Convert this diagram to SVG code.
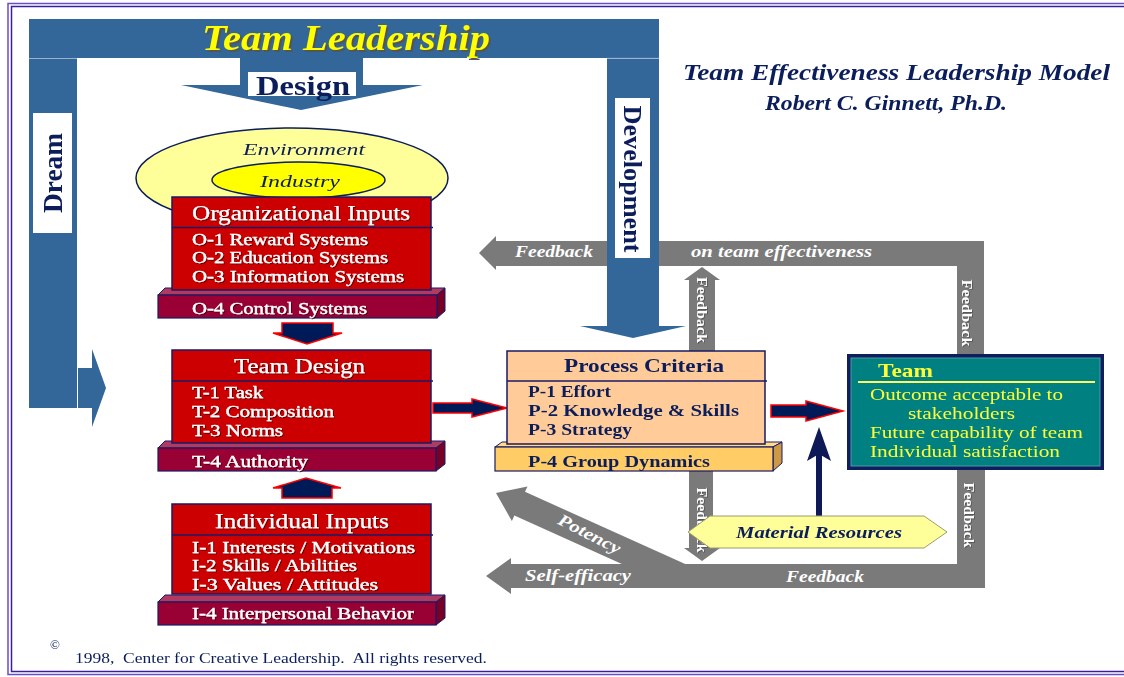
<svg xmlns="http://www.w3.org/2000/svg" width="1124" height="677" viewBox="0 0 1124 677">
  <defs>
    <style>
      text { font-family: "Liberation Serif", "Times New Roman", serif; }
      .navy { fill: #0b1d5a; }
      .bi { font-weight: bold; font-style: italic; }
      .b { font-weight: bold; }
      .red-box { fill: #cc0000; stroke: #1a1a66; stroke-width: 1.5; }
      .bar-front { fill: #990033; stroke: #1a1a66; stroke-width: 1.2; }
      .bar-top { fill: #b03a60; stroke: #1a1a66; stroke-width: 1; }
      .bar-side { fill: #770026; stroke: #1a1a66; stroke-width: 1; }
      .rule { stroke: #1a1a66; stroke-width: 1.5; }
      .box-title { font-size: 20px; fill: #ffffff; stroke: #ffffff; stroke-width: 0.25; }
      .box-item { font-size: 16.5px; fill: #ffffff; stroke: #ffffff; stroke-width: 0.35; }
      .blue { fill: #336699; }
      .flow { fill: #001a57; stroke: #ff0000; stroke-width: 1.5; stroke-linejoin: miter; }
      .fb { fill: #7a7a7a; }
      .fb-text { font-weight: bold; font-style: italic; fill: #ffffff; font-size: 17px; }
      .fb-vert { font-weight: bold; fill: #ffffff; font-size: 15px; }
      .pc-item { font-size: 17px; font-weight: bold; fill: #0b1d5a; }
      .team-item { font-size: 17px; fill: #ffff33; }
    </style>
    <filter id="emboss" x="-5%" y="-20%" width="110%" height="140%">
      <feDropShadow dx="1" dy="1" stdDeviation="0.4" flood-color="#3a0000" flood-opacity="0.75"/>
    </filter>
    <filter id="soft" x="-5%" y="-20%" width="110%" height="140%">
      <feDropShadow dx="0.8" dy="0.8" stdDeviation="0.3" flood-color="#333333" flood-opacity="0.6"/>
    </filter>
  </defs>

  <!-- page -->
  <rect x="0" y="0" width="1124" height="677" fill="#ffffff"/>
  <rect x="8" y="3.5" width="1130" height="671" fill="none" stroke="#6a4cc8" stroke-width="1.5"/>
  <rect x="11.5" y="6.5" width="1124" height="665" fill="none" stroke="#3a1e9a" stroke-width="1.5"/>

  <!-- feedback loops and flow arrows -->
  <g id="connectors">
    <!-- feedback on team effectiveness -->
    <polygon class="fb" points="479,253 496,236 496,241 984,241 984,354 957,354 957,266 496,266 496,270"/>
    <polygon class="fb" points="689,351 689,280 684,280 702,267 720,280 715,280 715,351"/>
    <!-- lower feedback, self-efficacy and potency -->
    <polygon class="fb" points="486,576 511,558 511,564 957,564 957,470 985,470 985,588 511,588 511,594"/>
    <polygon class="fb" points="496,493 527.5,486.4 525,491.8 720.7,580 657.3,580 514.4,515.6 511.9,521"/>
    <polygon class="fb" points="689,471 713,471 713,548 720,548 702,561 684,548 689,548"/>

    <text x="515" y="257" class="fb-text" textLength="78" lengthAdjust="spacingAndGlyphs">Feedback</text>
    <text x="691" y="257" class="fb-text" textLength="181" lengthAdjust="spacingAndGlyphs">on team effectiveness</text>
    <g filter="url(#soft)">
      <text transform="translate(697,310) rotate(90)" text-anchor="middle" class="fb-vert" textLength="66" lengthAdjust="spacingAndGlyphs">Feedback</text>
      <text transform="translate(962,313) rotate(90)" text-anchor="middle" class="fb-vert" textLength="67" lengthAdjust="spacingAndGlyphs">Feedback</text>
      <text transform="translate(697,520) rotate(90)" text-anchor="middle" class="fb-vert" textLength="65" lengthAdjust="spacingAndGlyphs">Feedback</text>
      <text transform="translate(964,515) rotate(90)" text-anchor="middle" class="fb-vert" textLength="65" lengthAdjust="spacingAndGlyphs">Feedback</text>
    </g>
    <text x="525" y="581" class="fb-text" textLength="106" lengthAdjust="spacingAndGlyphs">Self-efficacy</text>
    <text x="786" y="582" class="fb-text" textLength="78" lengthAdjust="spacingAndGlyphs">Feedback</text>
    <text transform="translate(587,539) rotate(27)" text-anchor="middle" class="fb-text" font-size="16" textLength="68" lengthAdjust="spacingAndGlyphs">Potency</text>

    <!-- input flow arrows -->
    <polygon class="flow" points="282,323 333,323 333,333 342,333 307,344 273,333 282,333"/>
    <polygon class="flow" points="282,498 332,498 332,488 341,488 306,478 273,488 282,488"/>
    <polygon class="flow" points="433,403 472,403 472,399 507,408 472,417 472,413 433,413"/>
    <polygon class="flow" points="771,405 806,405 806,401 843,411 806,421 806,417 771,417"/>

    <!-- material resources support -->
    <rect x="816" y="450" width="6" height="66" fill="#0d1a57"/>
    <polygon points="819,427 831,461 819,454 807,461" fill="#0d1a57"/>
  </g>

  <!-- leadership frame: top bar, Dream bar, Development arrow -->
  <g id="leadership-frame">
    <rect class="blue" x="29" y="19" width="630" height="39"/>
    <rect class="blue" x="29" y="58.5" width="48" height="349.5"/>
    <polygon class="blue" points="78,368 92,368 92,349 106,388 92,427 92,408 78,408"/>
    <polygon class="blue" points="607,58.5 659,58.5 659,326 686,326 633,338 580,326 607,326"/>
    <line x1="607" y1="58.3" x2="659" y2="58.3" stroke="#9fb6cf" stroke-width="0.8"/>
    <text x="204" y="52" class="bi" font-size="35" fill="#555555" textLength="288" lengthAdjust="spacingAndGlyphs">Team Leadership</text>
    <text x="202" y="50" class="bi" font-size="35" fill="#ffff00" textLength="288" lengthAdjust="spacingAndGlyphs">Team Leadership</text>
    <rect x="33" y="113" width="39" height="120" fill="#ffffff"/>
    <text transform="translate(62,173) rotate(-90)" text-anchor="middle" class="b navy" font-size="27" textLength="80" lengthAdjust="spacingAndGlyphs">Dream</text>
    <rect x="615" y="98" width="35" height="160" fill="#ffffff"/>
    <text transform="translate(624,179) rotate(90)" text-anchor="middle" class="b navy" font-size="26" textLength="147" lengthAdjust="spacingAndGlyphs">Development</text>
  </g>

  <!-- Design arrow -->
  <g id="design">
    <polygon class="blue" points="240,58 363,58 363,85 423,85 301,110 181,85 240,85"/>
    <rect x="248" y="72" width="108" height="24" fill="#ffffff"/>
    <text x="256" y="95" class="b navy" font-size="27" textLength="94" lengthAdjust="spacingAndGlyphs">Design</text>
  </g>

  <!-- model title -->
  <g id="title">
    <text x="683" y="80" class="bi navy" font-size="23" textLength="427" lengthAdjust="spacingAndGlyphs">Team Effectiveness Leadership Model</text>
    <text x="765" y="110" class="bi navy" font-size="20" textLength="242" lengthAdjust="spacingAndGlyphs">Robert C. Ginnett, Ph.D.</text>
  </g>

  <!-- environment / industry -->
  <g id="environment">
    <ellipse cx="292" cy="178" rx="156" ry="50" fill="#ffff99" stroke="#0b1d5a" stroke-width="1.5"/>
    <text x="243" y="155" class="navy" font-style="italic" font-size="17" textLength="122" lengthAdjust="spacingAndGlyphs">Environment</text>
  </g>
  <g id="industry">
    <ellipse cx="298.5" cy="180" rx="86.5" ry="18" fill="#ffff00" stroke="#0b1d5a" stroke-width="1.5"/>
    <text x="260" y="187" class="navy" font-style="italic" font-size="17" textLength="80" lengthAdjust="spacingAndGlyphs">Industry</text>
  </g>

  <!-- Organizational Inputs -->
  <g id="organizational-inputs">
    <polygon class="bar-top" points="158,295 165,288 445,288 437,295"/>
    <polygon class="bar-side" points="437,295 445,288 445,311 437,318"/>
    <rect class="bar-front" x="158" y="295" width="279" height="23"/>
    <rect class="red-box" x="172" y="197" width="259" height="93"/>
    <line class="rule" x1="172" y1="227.5" x2="433" y2="227.5"/>
    <g filter="url(#emboss)">
      <text x="192" y="220" class="box-title" textLength="218" lengthAdjust="spacingAndGlyphs">Organizational Inputs</text>
      <text x="192" y="245" class="box-item" textLength="176" lengthAdjust="spacingAndGlyphs">O-1 Reward Systems</text>
      <text x="192" y="263" class="box-item" textLength="196" lengthAdjust="spacingAndGlyphs">O-2 Education Systems</text>
      <text x="192" y="282" class="box-item" textLength="212" lengthAdjust="spacingAndGlyphs">O-3 Information Systems</text>
      <text x="192" y="314" class="box-item" textLength="175" lengthAdjust="spacingAndGlyphs">O-4 Control Systems</text>
    </g>
  </g>

  <!-- Team Design -->
  <g id="team-design">
    <polygon class="bar-top" points="158,448 165,441 445,441 436,448"/>
    <polygon class="bar-side" points="436,448 445,441 445,464 436,471"/>
    <rect class="bar-front" x="158" y="448" width="278" height="23"/>
    <rect class="red-box" x="172" y="350" width="259" height="93"/>
    <line class="rule" x1="172" y1="381" x2="433" y2="381"/>
    <g filter="url(#emboss)">
      <text x="234" y="373" class="box-title" textLength="131" lengthAdjust="spacingAndGlyphs">Team Design</text>
      <text x="192" y="398" class="box-item" textLength="71" lengthAdjust="spacingAndGlyphs">T-1 Task</text>
      <text x="192" y="417" class="box-item" textLength="142" lengthAdjust="spacingAndGlyphs">T-2 Composition</text>
      <text x="192" y="436" class="box-item" textLength="91" lengthAdjust="spacingAndGlyphs">T-3 Norms</text>
      <text x="192" y="467" class="box-item" textLength="116" lengthAdjust="spacingAndGlyphs">T-4 Authority</text>
    </g>
  </g>

  <!-- Individual Inputs -->
  <g id="individual-inputs">
    <polygon class="bar-top" points="158,602 165,595 445,595 436,602"/>
    <polygon class="bar-side" points="436,602 445,595 445,618 436,625"/>
    <rect class="bar-front" x="158" y="602" width="278" height="23"/>
    <rect class="red-box" x="172" y="504" width="259" height="90"/>
    <line class="rule" x1="172" y1="535" x2="433" y2="535"/>
    <g filter="url(#emboss)">
      <text x="215" y="528" class="box-title" textLength="174" lengthAdjust="spacingAndGlyphs">Individual Inputs</text>
      <text x="192" y="553" class="box-item" textLength="223" lengthAdjust="spacingAndGlyphs">I-1 Interests / Motivations</text>
      <text x="192" y="571" class="box-item" textLength="165" lengthAdjust="spacingAndGlyphs">I-2 Skills / Abilities</text>
      <text x="192" y="590" class="box-item" textLength="186" lengthAdjust="spacingAndGlyphs">I-3 Values / Attitudes</text>
      <text x="192" y="619" class="box-item" textLength="222" lengthAdjust="spacingAndGlyphs">I-4 Interpersonal Behavior</text>
    </g>
  </g>

  <!-- Process Criteria -->
  <g id="process-criteria">
    <polygon points="495,447 502,442 782,442 773,447" fill="#ffdd88" stroke="#1a1a66" stroke-width="1"/>
    <polygon points="773,447 782,442 782,463 773,471" fill="#cc9944" stroke="#1a1a66" stroke-width="1"/>
    <rect x="495" y="447" width="278" height="24" fill="#ffcc66" stroke="#1a1a66" stroke-width="1.2"/>
    <rect x="507" y="351" width="258" height="93" fill="#ffcc99" stroke="#1a1a66" stroke-width="1.5"/>
    <line class="rule" x1="507" y1="381" x2="767" y2="381"/>
    <text x="564" y="372" class="b navy" font-size="19" textLength="160" lengthAdjust="spacingAndGlyphs">Process Criteria</text>
    <text x="528" y="397" class="pc-item" textLength="83" lengthAdjust="spacingAndGlyphs">P-1 Effort</text>
    <text x="528" y="416" class="pc-item" textLength="211" lengthAdjust="spacingAndGlyphs">P-2 Knowledge &amp; Skills</text>
    <text x="528" y="435" class="pc-item" textLength="104" lengthAdjust="spacingAndGlyphs">P-3 Strategy</text>
    <text x="528" y="467" class="pc-item" textLength="182" lengthAdjust="spacingAndGlyphs">P-4 Group Dynamics</text>
  </g>

  <!-- Team outcomes -->
  <g id="team">
    <rect x="847" y="354" width="257" height="116" fill="#0f1f5c"/>
    <rect x="851" y="358" width="249" height="108" fill="#008080" stroke="#4d9aa8" stroke-width="1"/>
    <line x1="858" y1="382" x2="1095" y2="382" stroke="#ffff66" stroke-width="2"/>
    <text x="878" y="377" class="b" font-size="19" fill="#ffff33" textLength="55" lengthAdjust="spacingAndGlyphs">Team</text>
    <text x="870" y="400" class="team-item" textLength="193" lengthAdjust="spacingAndGlyphs">Outcome acceptable to</text>
    <text x="908" y="419" class="team-item" textLength="107" lengthAdjust="spacingAndGlyphs">stakeholders</text>
    <text x="870" y="438" class="team-item" textLength="213" lengthAdjust="spacingAndGlyphs">Future capability of team</text>
    <text x="870" y="457" class="team-item" textLength="190" lengthAdjust="spacingAndGlyphs">Individual satisfaction</text>
  </g>

  <!-- Material Resources -->
  <g id="material-resources">
    <polygon points="688,532 710,516 924,516 947,532 924,548 710,548" fill="#ffff99" stroke="#9a9a70" stroke-width="1"/>
    <text x="736" y="538" class="bi navy" font-size="16" textLength="166" lengthAdjust="spacingAndGlyphs">Material Resources</text>
  </g>

  <!-- copyright -->
  <g id="copyright">
    <text x="50" y="649" class="navy" font-size="13">©</text>
    <text x="75" y="663" class="navy" font-size="15" style="white-space:pre" textLength="412" lengthAdjust="spacingAndGlyphs">1998,  Center for Creative Leadership.  All rights reserved.</text>
  </g>
</svg>
